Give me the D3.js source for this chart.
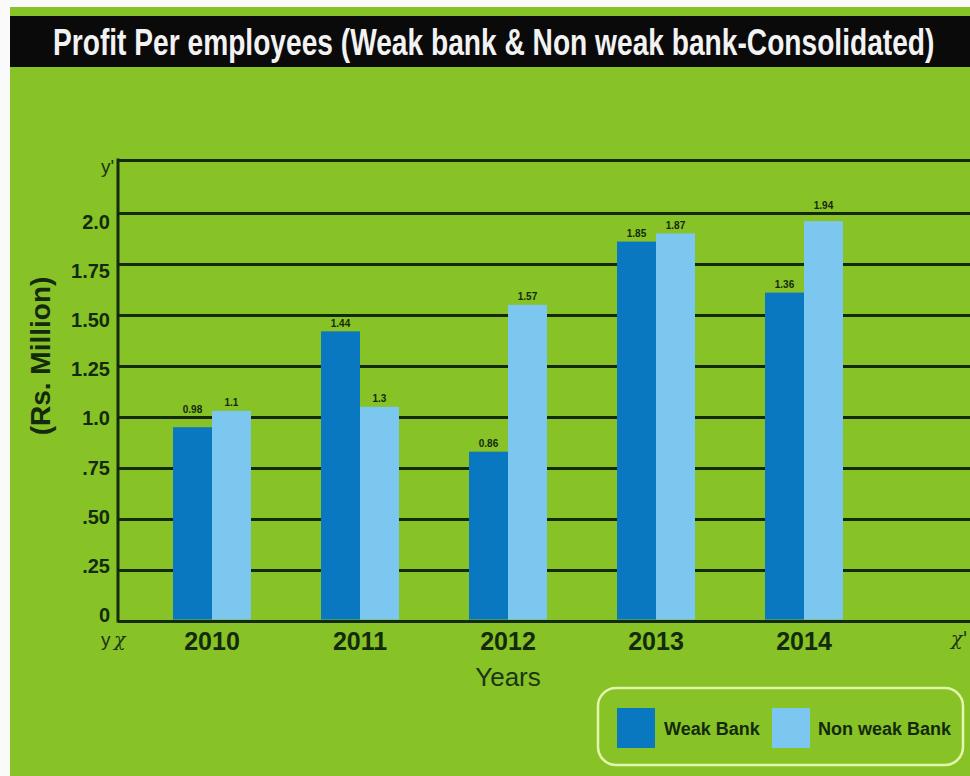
<html>
<head>
<meta charset="utf-8">
<title>Profit Per employees</title>
<style>
  body{margin:0;background:#fafafa;}
  svg{display:block;}
  text{font-family:"Liberation Sans",Arial,sans-serif;}
</style>
<script src="https://d3js.org/d3.v7.min.js"></script>
</head>
<body>
<script>
var years = ["2010", "2011", "2012", "2013", "2014"];
var weakBank = [0.95, 1.42, 0.83, 1.86, 1.61];
var nonWeakBank = [1.03, 1.05, 1.55, 1.90, 1.96];
var weakLabels = ["0.98", "1.44", "0.86", "1.85", "1.36"];
var nonWeakLabels = ["1.1", "1.3", "1.57", "1.87", "1.94"];
var tickValues = [0, 0.25, 0.5, 0.75, 1.0, 1.25, 1.5, 1.75, 2.0];
var tickLabels = ["0", ".25", ".50", ".75", "1.0", "1.25", "1.50", "1.75", "2.0"];
var seriesNames = ["Weak Bank", "Non weak Bank"];

var width = 970, height = 776;
var green = "#87c227", dark = "#142a0c";
var color = d3.scaleOrdinal().domain(seriesNames).range(["#0a77c1", "#7bc7ef"]);

var svg = d3.select("body").append("svg")
  .attr("width", width).attr("height", height);

// background + title band
svg.append("rect").attr("x", 10).attr("y", 7).attr("width", width - 10).attr("height", height - 7).attr("fill", green);
svg.append("rect").attr("x", 10).attr("y", 16).attr("width", width - 10).attr("height", 51).attr("fill", "#0a0a0a");
var title = svg.append("text")
  .style("font-size", "36px").style("font-weight", "bold").attr("fill", "#f2f2f2")
  .text("Profit Per employees (Weak bank & Non weak bank-Consolidated)");
// squeeze the title horizontally to the narrow look of the original
var tw = title.node().getComputedTextLength();
title.attr("transform", "translate(53,55) scale(" + (882 / tw) + ",1)");

var left = 118, right = width;
var y = d3.scaleLinear().domain([0, 2.26]).range([621, 160]);
var x = d3.scaleBand().domain(years).range([138, 878]).paddingInner(0.473).paddingOuter(0.2365);
var xs = d3.scaleBand().domain(seriesNames).range([0, x.bandwidth()]);
var labelShift = d3.scaleLinear().domain([0, 2]).range([-6, 9]);

// gridlines + y labels
var yAxis = svg.append("g")
  .attr("transform", "translate(" + left + ",0)")
  .call(d3.axisLeft(y).tickValues(tickValues.concat([2.26]))
    .tickSize(-(right - left)).tickPadding(8)
    .tickFormat(function(d, i){ return i < tickLabels.length ? tickLabels[i] : ""; }));
yAxis.select(".domain").remove();
yAxis.selectAll("line").attr("stroke", dark).attr("stroke-width", 3);
yAxis.selectAll("text")
  .attr("y", function(d){ return labelShift(d); }).attr("fill", dark)
  .style("font-size", "20px").style("font-weight", "bold");
svg.append("line").attr("x1", left).attr("x2", left).attr("y1", y(2.26) - 1.5).attr("y2", y(0) + 1.5)
  .attr("stroke", dark).attr("stroke-width", 3);

// bars
function pairs(d, i){
  return [
    {s: seriesNames[0], v: weakBank[i], l: weakLabels[i]},
    {s: seriesNames[1], v: nonWeakBank[i], l: nonWeakLabels[i]}
  ];
}
var groups = svg.selectAll(".year").data(years).enter().append("g")
  .attr("class", "year")
  .attr("transform", function(d){ return "translate(" + x(d) + ",0)"; });

groups.selectAll("rect")
  .data(pairs)
  .enter().append("rect")
  .attr("x", function(d){ return xs(d.s); })
  .attr("width", xs.bandwidth())
  .attr("y", function(d){ return y(d.v); })
  .attr("height", function(d){ return y(0) - y(d.v) - 1.5; })
  .attr("fill", function(d){ return color(d.s); });

// value label sits above the bar, hopping over a gridline when it would sit on one
function labelY(v){
  var c = y(v) - 8;
  tickValues.forEach(function(t){
    if (Math.abs(c - y(t)) < 6) c = y(t) - 8;
  });
  return c + 3.5;
}
groups.selectAll("text.val")
  .data(pairs)
  .enter().append("text")
  .attr("class", "val")
  .attr("x", function(d){ return xs(d.s) + xs.bandwidth() / 2; })
  .attr("y", function(d){ return labelY(d.v); })
  .attr("text-anchor", "middle")
  .style("font-size", "10px").style("font-weight", "bold").attr("fill", dark)
  .text(function(d){ return d.l; });

// x labels
var xAxis = svg.append("g")
  .attr("transform", "translate(0," + y(0) + ")")
  .call(d3.axisBottom(x).tickSize(0));
xAxis.select(".domain").remove();
xAxis.selectAll("text")
  .attr("y", 29).attr("dy", 0).attr("fill", dark)
  .style("font-size", "25px").style("font-weight", "bold");

svg.append("text").attr("x", 508).attr("y", 686).attr("text-anchor", "middle")
  .style("font-size", "26px").attr("fill", "#1c3512").text("Years");

svg.append("text").attr("x", 40).attr("y", 356)
  .attr("transform", "rotate(-90,40,356)").attr("dy", "0.35em")
  .attr("text-anchor", "middle")
  .style("font-size", "28px").style("font-weight", "bold").attr("fill", dark)
  .text("(Rs. Million)");

// axis end marks
var marks = [
  {t: "y'", x: 101, y: 173, f: "Liberation Sans"},
  {t: "y", x: 101, y: 646, f: "Liberation Sans"},
  {t: "χ", x: 114, y: 646, f: "DejaVu Serif"},
  {t: "χ'", x: 951, y: 645, f: "DejaVu Serif"}
];
svg.selectAll(".mark").data(marks).enter().append("text")
  .attr("class", "mark")
  .attr("x", function(d){ return d.x; }).attr("y", function(d){ return d.y; })
  .style("font-family", function(d){ return d.f; })
  .style("font-style", function(d){ return d.f === "DejaVu Serif" ? "italic" : "normal"; })
  .style("font-size", "19px").attr("fill", "#1c3512")
  .text(function(d){ return d.t; });

// legend
var legend = svg.append("g");
legend.append("rect").attr("x", 598).attr("y", 688).attr("width", 365).attr("height", 77)
  .attr("rx", 18).attr("fill", "none").attr("stroke", "#e4f6ad").attr("stroke-width", 2.5);
var items = legend.selectAll(".item").data(seriesNames).enter().append("g")
  .attr("class", "item")
  .attr("transform", function(d, i){ return "translate(" + [617, 772][i] + ",708)"; });
items.append("rect").attr("width", 38).attr("height", 40).attr("fill", function(d){ return color(d); });
items.append("text").attr("x", function(d, i){ return [47, 46][i]; }).attr("y", 27)
  .style("font-size", "18px").style("font-weight", "bold").attr("fill", dark)
  .text(function(d){ return d; });
</script>
</body>
</html>
